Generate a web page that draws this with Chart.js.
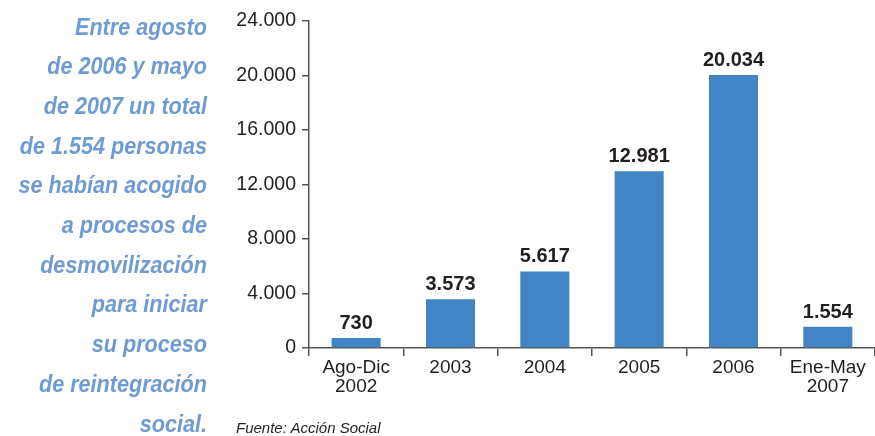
<!DOCTYPE html>
<html>
<head>
<meta charset="utf-8">
<script src="https://cdn.jsdelivr.net/npm/chart.js@4.4.0/dist/chart.umd.min.js"></script>
<style>
    body { margin: 0; background: #fff; }
    #wrap { position: relative; width: 875px; height: 436px; overflow: hidden; }
    #chart { position: absolute; left: 0; top: 0; }
    #note {
        position: absolute; right: 668px; top: 6.5px; width: 260px;
        text-align: right; font-family: "Liberation Sans", Arial, sans-serif;
        font-size: 24px; font-weight: bold; font-style: italic;
        line-height: 39.7px; color: #6f9bd3;
        transform: scaleX(0.9); transform-origin: right top;
    }
    #source {
        position: absolute; left: 236px; top: 419px;
        font-family: "Liberation Sans", Arial, sans-serif;
        font-size: 15px; font-style: italic; color: #231f20;
    }
</style>
</head>
<body>
<div id="wrap">
    <canvas id="chart" width="875" height="436"></canvas>
    <div id="note">Entre agosto<br>de 2006 y mayo<br>de 2007 un total<br>de 1.554 personas<br>se habían acogido<br>a procesos de<br>desmovilización<br>para iniciar<br>su proceso<br>de reintegración<br>social.</div>
    <div id="source">Fuente: Acción Social</div>
</div>
<script>
const categories = [[`Ago-Dic`, `2002`], `2003`, `2004`, `2005`, `2006`, [`Ene-May`, `2007`]];
const personas = [730, 3573, 5617, 12981, 20034, 1554];
const yMax = 24000;
const yStep = 4000;

const sans = `"Liberation Sans", Arial, sans-serif`;

function fmt(value) {
    return String(value).replace(/\B(?=(\d{3})+(?!\d))/g, `.`);
}

const valueLabels = {
    id: `valueLabels`,
    afterDatasetsDraw(chart) {
        const ctx = chart.ctx;
        ctx.save();
        ctx.font = `bold 20px ${sans}`;
        ctx.fillStyle = `#231f20`;
        ctx.textAlign = `center`;
        ctx.textBaseline = `alphabetic`;
        chart.getDatasetMeta(0).data.forEach((bar, i) => {
            ctx.fillText(fmt(personas[i]), bar.x, bar.y - 9);
        });
        ctx.restore();
    }
};

const ctx = document.querySelector(`#chart`).getContext(`2d`);
const myChart = new Chart(ctx, {
    type: `bar`,
    data: {
        labels: categories,
        datasets: [
            {
                data: personas,
                backgroundColor: `#4285c6`,
                borderWidth: 0,
                categoryPercentage: 1,
                barPercentage: 0.52
            }
        ]
    },
    options: {
        responsive: false,
        animation: false,
        layout: {
            padding: { top: 21, right: 0, bottom: 0, left: 0 }
        },
        plugins: {
            legend: { display: false },
            tooltip: { enabled: false }
        },
        scales: {
            x: {
                afterFit(scale) { scale.height = 88; },
                grid: {
                    drawOnChartArea: false,
                    drawTicks: true,
                    tickLength: 8,
                    color: `#555`,
                    lineWidth: 1.5
                },
                border: { color: `#555`, width: 1.5 },
                ticks: {
                    color: `#231f20`,
                    padding: 2,
                    font: { family: sans, size: 19, lineHeight: 1.0 },
                    maxRotation: 0,
                    autoSkip: false
                }
            },
            y: {
                min: 0,
                max: yMax,
                afterFit(scale) { scale.width = 309; },
                grid: {
                    drawOnChartArea: false,
                    drawTicks: true,
                    tickLength: 7,
                    color: `#555`,
                    lineWidth: 1.5
                },
                border: { color: `#555`, width: 1.5 },
                ticks: {
                    stepSize: yStep,
                    color: `#231f20`,
                    padding: 6,
                    font: { family: sans, size: 19.5 },
                    callback: value => fmt(value)
                }
            }
        }
    },
    plugins: [valueLabels]
});
</script>
</body>
</html>
